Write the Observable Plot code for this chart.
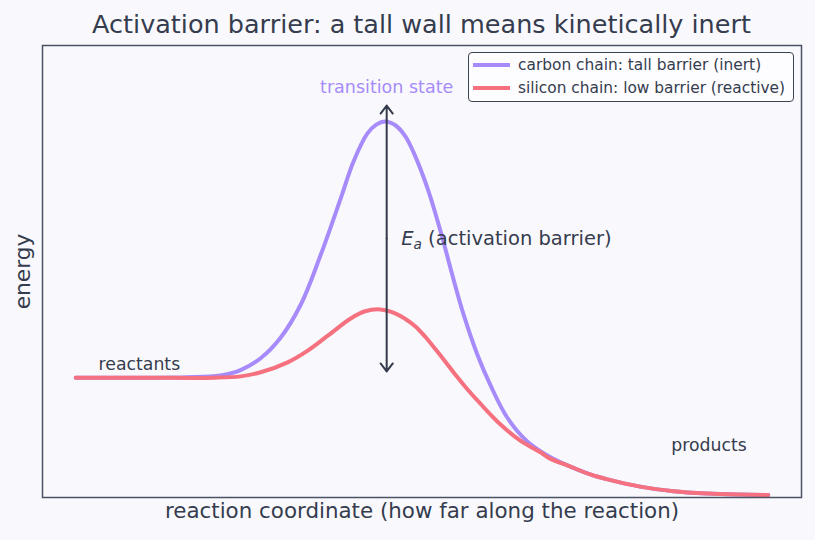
<!DOCTYPE html>
<html>
<head>
<meta charset="utf-8">
<script src="https://cdn.jsdelivr.net/npm/d3@7"></script>
<script src="https://cdn.jsdelivr.net/npm/@observablehq/plot@0.6"></script>
<style>
  html, body { margin: 0; padding: 0; background: #f9f9fd; }
  #wrap { position: relative; width: 815px; height: 540px; font-family: "DejaVu Sans", sans-serif; color: #353c4e; }
  #title { box-sizing: border-box; width: 815px; height: 40px; line-height: 49px; padding-left: 28px; text-align: center; font-size: 25.5px; white-space: nowrap; overflow: visible; }
  #legend { position: absolute; left: 468px; top: 52px; width: 326px; height: 50px; box-sizing: border-box;
            border: 1.5px solid #3c4354; border-radius: 4px; background: #fdfdff; font-size: 15.4px; }
  .item { position: absolute; left: 4px; display: flex; align-items: center; white-space: nowrap; }
  .sw { width: 37px; height: 4px; margin-right: 8px; }
</style>
</head>
<body>
<div id="wrap">
  <div id="title">Activation barrier: a tall wall means kinetically inert</div>
  <div id="chart"></div>
  <div id="legend"></div>
</div>
<script>
// reaction coordinate (0..10) and energy (arbitrary units)
const carbonX = [0, 1.0, 1.6, 2.09, 2.38, 2.67, 2.96, 3.25, 3.54, 3.82, 4.01, 4.21, 4.34, 4.47, 4.62, 4.76, 4.88, 5.08, 5.27, 5.44, 5.60, 5.80, 5.99, 6.23, 6.52, 6.81, 7.10, 7.43, 7.68, 8.15, 8.63, 9.12, 9.60, 10.0];
const carbonE = [26.5, 26.5, 26.6, 27.0, 28.2, 30.8, 35.4, 42.7, 53.8, 65.9, 74.3, 80.5, 82.5, 83.2, 82.3, 79.9, 76.3, 68.4, 58.8, 49.1, 40.5, 31.6, 24.8, 17.7, 12.4, 9.3, 7.1, 5.1, 4.0, 2.4, 1.4, 0.9, 0.66, 0.55];

const siliconX = [0, 1.0, 2.0, 2.38, 2.67, 3.06, 3.35, 3.64, 3.97, 4.18, 4.40, 4.62, 4.76, 4.91, 5.05, 5.19, 5.34, 5.48, 5.63, 5.84, 6.13, 6.42, 6.71, 6.85, 7.10, 7.43, 7.68, 8.15, 8.63, 9.12, 9.60, 10.0];
const siliconE = [26.5, 26.5, 26.5, 26.8, 27.7, 29.9, 32.5, 35.8, 39.6, 41.2, 41.6, 40.7, 39.5, 37.8, 35.5, 32.9, 30.0, 27.2, 24.4, 20.8, 16.2, 12.6, 10.0, 8.6, 7.1, 5.1, 4.0, 2.4, 1.4, 0.9, 0.66, 0.55];

const seriesNames = ["carbon chain: tall barrier (inert)", "silicon chain: low barrier (reactive)"];
const seriesColors = ["#a78bfa", "#f6717f"];

// activation barrier arrow: reaction coordinate, bottom energy, top energy
const barrierX = [4.49];
const barrierLow = [27.9];
const barrierHigh = [86.7];

const annotationText = ["reactants", "products", "transition state", "Ea (activation barrier)"];
const annotationX = [0.33, 8.60, 4.49, 4.70];
const annotationE = [29.4, 11.5, 90.7, 57.3];

const xLabel = "reaction coordinate (how far along the reaction)";
const yLabel = "energy";

const carbon = carbonX.map((x, i) => ({x, e: carbonE[i]}));
const silicon = siliconX.map((x, i) => ({x, e: siliconE[i]}));
const barrier = barrierX.map((x, i) => ({x, lo: barrierLow[i], hi: barrierHigh[i], mid: (barrierLow[i] + barrierHigh[i]) / 2}));
const ann = annotationText.map((t, i) => ({t, x: annotationX[i], e: annotationE[i]}));

const ink = "#353c4e";
const chart = Plot.plot({
  width: 815, height: 500,
  marginLeft: 42, marginRight: 14, marginTop: 5, marginBottom: 43,
  x: {domain: [-0.48, 10.48], axis: null},
  y: {domain: [0, 100], axis: null},
  style: {background: "transparent", fontFamily: "DejaVu Sans", color: ink},
  marks: [
    Plot.line(carbon, {x: "x", y: "e", stroke: seriesColors[0], strokeWidth: 4, curve: "catmull-rom"}),
    Plot.line(silicon, {x: "x", y: "e", stroke: seriesColors[1], strokeWidth: 4, curve: "catmull-rom"}),
    Plot.arrow(barrier, {x1: "x", x2: "x", y1: "mid", y2: "hi", stroke: "#333a49", strokeWidth: 2, headLength: 7.5, headAngle: 75}),
    Plot.arrow(barrier, {x1: "x", x2: "x", y1: "mid", y2: "lo", stroke: "#333a49", strokeWidth: 2, headLength: 7.5, headAngle: 75}),
    Plot.text(ann.slice(0, 2), {x: "x", y: "e", text: "t", textAnchor: "start", fontSize: 17.3, fill: ink}),
    Plot.text(ann.slice(2, 3), {x: "x", y: "e", text: "t", textAnchor: "middle", fontSize: 17.5, fill: seriesColors[0]}),
    Plot.text(ann.slice(3, 4), {x: "x", y: "e", text: "t", textAnchor: "start", fontSize: 19.5, fill: ink}),
    Plot.text([xLabel], {frameAnchor: "bottom", dy: 20, fontSize: 21.4, fill: ink}),
    Plot.text([yLabel], {frameAnchor: "left", textAnchor: "middle", dx: -19, rotate: -90, fontSize: 21.7, fill: ink}),
    Plot.frame({stroke: "#4b5263", strokeWidth: 1.5, strokeOpacity: 1})
  ]
});
document.getElementById("chart").appendChild(chart);

// italic E with subscript a
d3.select(chart).selectAll("text").each(function() {
  if (this.textContent === annotationText[3]) {
    const el = d3.select(this);
    el.text(null);
    el.append("tspan").attr("font-style", "italic").text("E");
    el.append("tspan").attr("font-style", "italic").attr("font-size", "0.7em").attr("dy", "0.3em").text("a");
    el.append("tspan").attr("dy", "-0.21em").text(" (activation barrier)");
  }
});

const legend = d3.select("#legend");
seriesNames.forEach((name, i) => {
  const it = legend.append("div").attr("class", "item").style("top", (i === 0 ? 3 : 26) + "px");
  it.append("div").attr("class", "sw").style("background", seriesColors[i]);
  it.append("span").text(name);
});
</script>
</body>
</html>
